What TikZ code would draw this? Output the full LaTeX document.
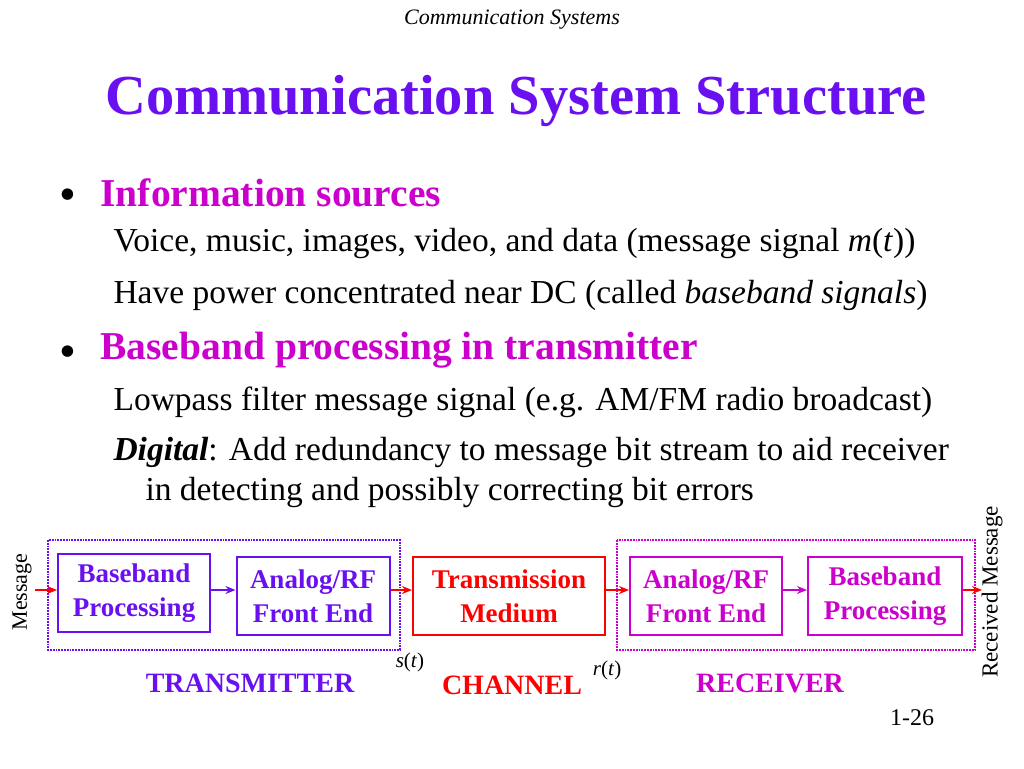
\documentclass[tikz,border=0pt]{standalone}
\usepackage{fontspec}
\setmainfont{Liberation Serif}
\usetikzlibrary{arrows.meta}
\definecolor{tx}{HTML}{6A10F0}
\definecolor{rx}{HTML}{CC00CC}
\definecolor{ch}{HTML}{FF0000}
\begin{document}
\begin{tikzpicture}[x=1pt,y=-1pt,
  blk/.style={draw,line width=2pt,minimum height=78pt,align=center,font=\fontsize{27}{34}\selectfont\bfseries,inner sep=1pt},
  grp/.style={draw,densely dotted,line width=1.8pt},
  arr/.style={-{Stealth[length=10pt,width=8pt]},line width=2pt},
  body/.style={anchor=west,font=\fontsize{33.5}{40}\selectfont},
  head/.style={anchor=west,font=\fontsize{39.5}{46}\selectfont\bfseries,text=rx}]
\useasboundingbox (0,0) rectangle (1024,768);
\node (hdr) at (512,20) {\fontsize{22}{24}\selectfont\itshape Communication Systems};
\node[text=tx] (title) at (516,101) {\fontsize{56.5}{64}\selectfont\bfseries Communication System Structure};
\node (b1) at (68,200) {\fontsize{48}{50}\selectfont •};
\node[head] (h1) at (97,193) {Information sources};
\node[body] (l1) at (110,243) {Voice, music, images, video, and data (message signal \textit{m}(\textit{t}))};
\node[body] (l2) at (110,295) {Have power concentrated near DC (called \textit{baseband signals})};
\node (b2) at (68,357) {\fontsize{48}{50}\selectfont •};
\node[head] (h2) at (97,350) {Baseband processing in transmitter};
\node[body] (l3) at (110,402) {Lowpass filter message signal (e.g. AM/FM radio broadcast)};
\node[body] (l4) at (110,452) {\textbf{\textit{Digital}}: Add redundancy to message bit stream to aid receiver};
\node[body] (l5) at (142,492) {in detecting and possibly correcting bit errors};

\draw[grp,tx] (48,540) rectangle (400,650);
\draw[grp,rx] (617,540) rectangle (975,650);
\node[blk,tx,minimum width=152pt] (bb1) at (134,593) {Baseband\\Processing};
\node[blk,tx,minimum width=153pt] (af1) at (313,596) {Analog/RF\\Front End};
\node[blk,ch,minimum width=192pt] (tm) at (509,596) {Transmission\\Medium};
\node[blk,rx,minimum width=152pt] (af2) at (706,596) {Analog/RF\\Front End};
\node[blk,rx,minimum width=154pt] (bb2) at (885,596) {Baseband\\Processing};
\node[rotate=90,font=\fontsize{22}{24}\selectfont] (msg) at (22,592) {Message};
\node[rotate=90,font=\fontsize{23}{26}\selectfont] (rmsg) at (992,592) {Received Message};
\coordinate (m0) at (35,590);
\coordinate (m1) at (982,590);
\draw[arr,ch] (m0) -- (bb1.west |- m0);
\draw[arr,tx] (bb1.east |- m0) -- (af1.west |- m0);
\draw[arr,ch] (af1.east |- m0) -- (tm.west |- m0);
\draw[arr,ch] (tm.east |- m0) -- (af2.west |- m0);
\draw[arr,rx] (af2.east |- m0) -- (bb2.west |- m0);
\draw[arr,ch] (bb2.east |- m0) -- (m1);
\node (s) at (410,662) {\fontsize{21}{24}\selectfont\textit{s}(\textit{t})};
\node (r) at (607,670) {\fontsize{21}{24}\selectfont\textit{r}(\textit{t})};
\node[text=tx] (txl) at (250,683) {\fontsize{28}{32}\selectfont\bfseries TRANSMITTER};
\node[text=ch] (chl) at (512,685) {\fontsize{28}{32}\selectfont\bfseries CHANNEL};
\node[text=rx] (rxl) at (770,683) {\fontsize{28}{32}\selectfont\bfseries RECEIVER};
\node (pg) at (912,718) {\fontsize{24}{26}\selectfont 1-26};
\end{tikzpicture}
\end{document}
